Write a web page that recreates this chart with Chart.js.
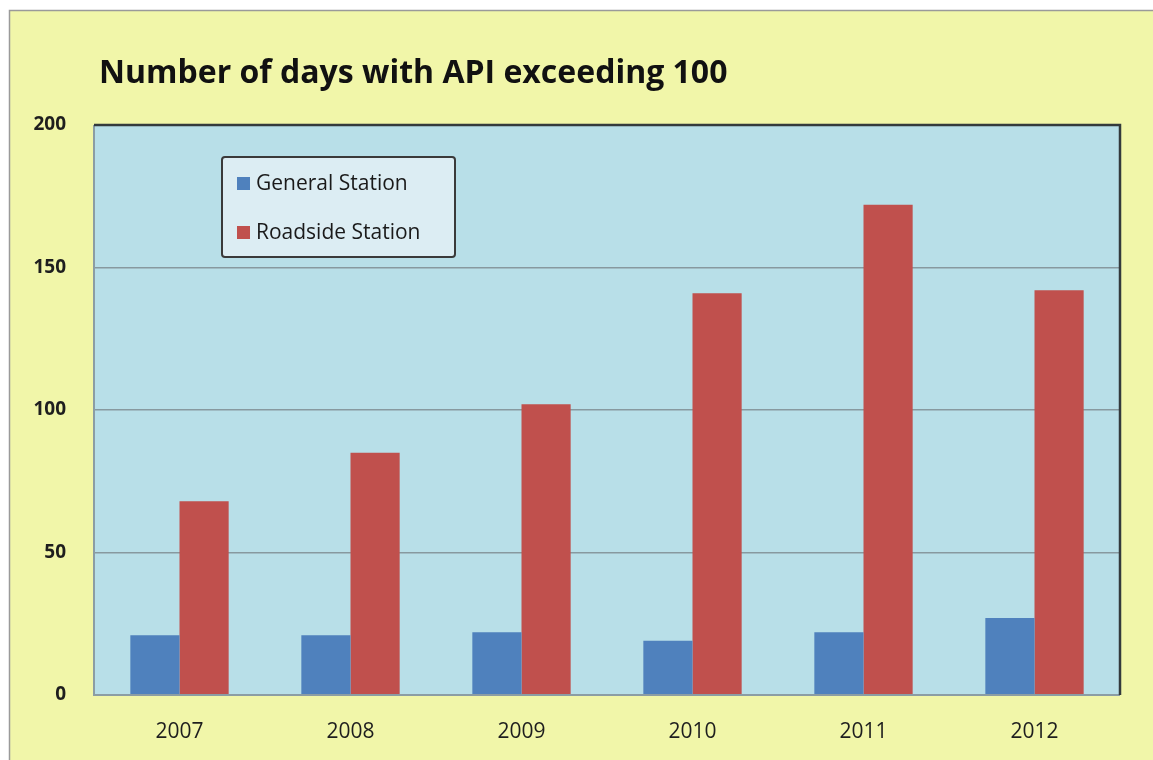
<!DOCTYPE html>
<html>
<head>
<meta charset="utf-8">
<script src="https://cdn.jsdelivr.net/npm/chart.js@4"></script>
<style>
    html, body { margin: 0; padding: 0; background: #ffffff; }
    #wrap { width: 1153px; height: 760px; position: relative; }
</style>
</head>
<body>
<div id="wrap"><canvas id="apiChart" width="1153" height="760"></canvas></div>
<script>
// Chart data
const years = ['2007', '2008', '2009', '2010', '2011', '2012'];
const generalStation = [21, 21, 22, 19, 22, 27];
const roadsideStation = [68, 85, 102, 141, 172, 142];
const yTicks = [0, 50, 100, 150, 200];

const chartTitle = 'Number of days with API exceeding 100';
const fontFamily = '"Open Sans", "Noto Sans", sans-serif';

// Background, plot fill and title
const backdropPlugin = {
    id: 'backdrop',
    beforeDraw(chart) {
        const { ctx, chartArea: a } = chart;
        ctx.save();
        ctx.fillStyle = '#ffffff';
        ctx.fillRect(0, 0, chart.width, chart.height);
        ctx.fillStyle = '#f1f6a9';
        ctx.fillRect(9, 10, chart.width, chart.height);
        ctx.strokeStyle = '#9a9a9a';
        ctx.lineWidth = 1.5;
        ctx.beginPath();
        ctx.moveTo(9.5, chart.height);
        ctx.lineTo(9.5, 10.5);
        ctx.lineTo(chart.width, 10.5);
        ctx.stroke();

        ctx.fillStyle = '#b8dfe8';
        ctx.fillRect(a.left, a.top, a.right - a.left, a.bottom - a.top);

        ctx.fillStyle = '#111111';
        ctx.font = 'bold 32px ' + fontFamily;
        ctx.textBaseline = 'alphabetic';
        ctx.textAlign = 'left';
        ctx.fillText(chartTitle, 99, 83);
        ctx.restore();
    },
    afterDatasetsDraw(chart) {
        const { ctx, chartArea: a } = chart;
        ctx.save();
        // light left and bottom edges
        ctx.strokeStyle = '#8b9da4';
        ctx.lineWidth = 2;
        ctx.beginPath();
        ctx.moveTo(a.left, a.top);
        ctx.lineTo(a.left, a.bottom);
        ctx.lineTo(a.right, a.bottom);
        ctx.stroke();
        // dark top and right edges
        ctx.strokeStyle = '#333a3c';
        ctx.lineWidth = 2.5;
        ctx.beginPath();
        ctx.moveTo(a.left, a.top);
        ctx.lineTo(a.right, a.top);
        ctx.lineTo(a.right, a.bottom);
        ctx.stroke();
        ctx.restore();
    }
};

// Legend box inside the plot
const boxLegendPlugin = {
    id: 'boxLegend',
    afterDraw(chart) {
        const { ctx } = chart;
        const x = 222, y = 157, w = 233, h = 100;
        ctx.save();
        ctx.fillStyle = '#dcedf3';
        ctx.strokeStyle = '#3a3a3a';
        ctx.lineWidth = 2;
        ctx.beginPath();
        ctx.roundRect(x, y, w, h, 3);
        ctx.fill();
        ctx.stroke();

        ctx.font = '21px ' + fontFamily;
        ctx.textBaseline = 'middle';
        ctx.textAlign = 'left';
        chart.data.datasets.forEach((ds, i) => {
            const cy = y + 27 + i * 49;
            ctx.fillStyle = ds.backgroundColor;
            ctx.fillRect(x + 15, cy - 7, 13, 13);
            ctx.fillStyle = '#1a1a1a';
            ctx.fillText(ds.label, x + 34, cy);
        });
        ctx.restore();
    }
};

const ctx = document.getElementById('apiChart').getContext('2d');
new Chart(ctx, {
    type: 'bar',
    data: {
        labels: years,
        datasets: [
            {
                label: 'General Station',
                data: generalStation,
                backgroundColor: '#4f81bd'
            },
            {
                label: 'Roadside Station',
                data: roadsideStation,
                backgroundColor: '#c0504d'
            }
        ]
    },
    options: {
        responsive: false,
        animation: false,
        devicePixelRatio: 1,
        layout: {
            padding: { left: 14, top: 125, right: 33, bottom: 0 }
        },
        datasets: {
            bar: {
                categoryPercentage: 0.575,
                barPercentage: 1.0
            }
        },
        scales: {
            x: {
                offset: true,
                grid: { display: false, drawTicks: false },
                border: { display: false },
                ticks: {
                    color: '#1e1e1e',
                    padding: 24,
                    font: { family: fontFamily, size: 21 }
                },
                afterFit(scale) { scale.height = 65; }
            },
            y: {
                min: 0,
                max: 200,
                afterBuildTicks(scale) {
                    scale.ticks = yTicks.map(v => ({ value: v }));
                },
                grid: {
                    color: '#87999f',
                    lineWidth: 1.5,
                    drawTicks: false
                },
                border: { display: false },
                ticks: {
                    color: '#1e1e1e',
                    padding: 28,
                    font: { family: fontFamily, size: 19, weight: 'bold' }
                },
                afterFit(scale) { scale.width = 80; }
            }
        },
        plugins: {
            legend: { display: false },
            title: { display: false },
            tooltip: { enabled: false }
        }
    },
    plugins: [backdropPlugin, boxLegendPlugin]
});
</script>
</body>
</html>
